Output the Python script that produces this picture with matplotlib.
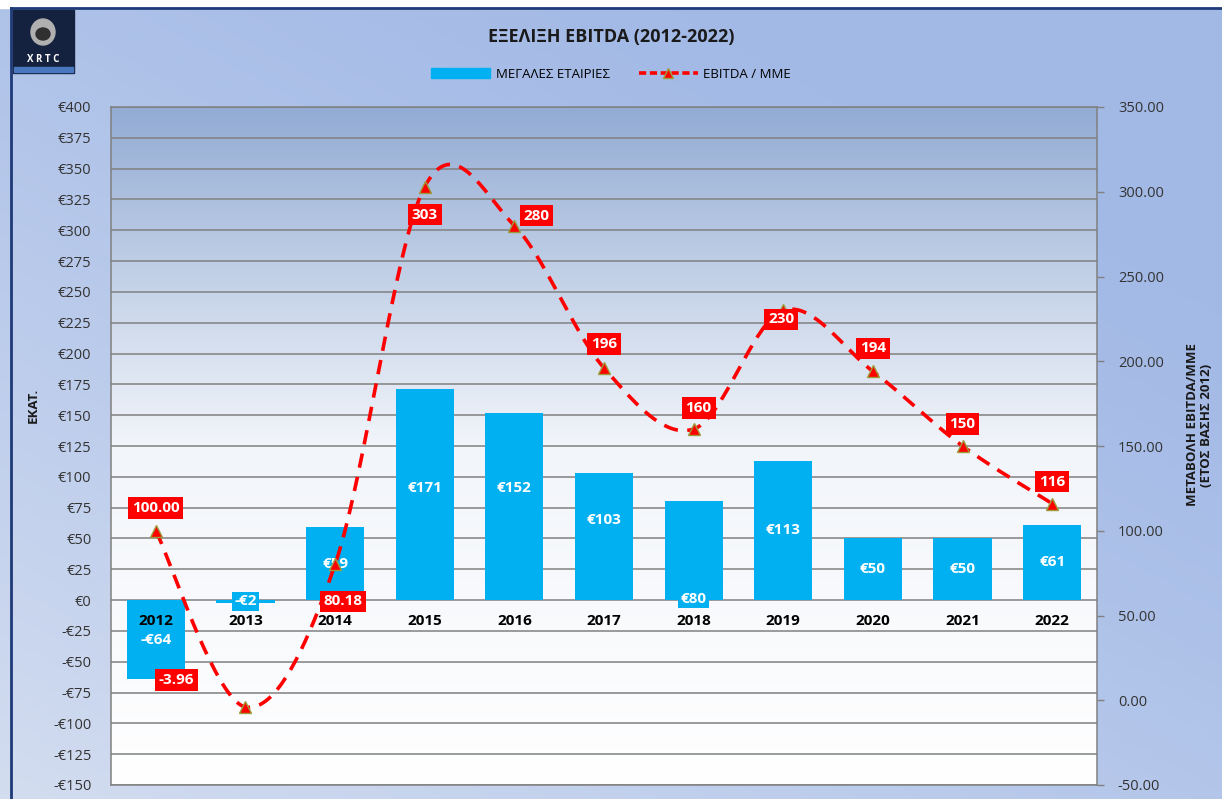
import numpy as np
import matplotlib
matplotlib.use("Agg")
import matplotlib.pyplot as plt
from matplotlib.patches import Rectangle, Ellipse
from matplotlib.lines import Line2D
from matplotlib.colors import LinearSegmentedColormap

plt.rcParams['font.family'] = ['Open Sans', 'DejaVu Sans']

years = ['2012', '2013', '2014', '2015', '2016', '2017', '2018', '2019', '2020', '2021', '2022']
big_companies = [-64, -2, 59, 171, 152, 103, 80, 113, 50, 50, 61]
ebitda_sme = [100.00, -3.96, 80.18, 303, 280, 196, 160, 230, 194, 150, 116]
line_labels = ['100.00', '-3.96', '80.18', '303', '280', '196', '160', '230', '194', '150', '116']

# where excel put the labels (pixel offsets from the marker / y of bar labels)
line_label_offsets = [(0, 23), (-69, 27), (8, -37), (0, -28), (22, 10), (0, 24),
                      (5, 21), (-2, -9), (0, 23), (0, 22), (0, 22)]
bar_label_y = [-32, -1, 29.5, 91, 91, 65, 1, 56.5, 25, 25, 30.5]

BAR = '#00b0f0'
RED = '#ff0000'
W, H = 1222, 799

fig = plt.figure(figsize=(W / 100, H / 100), dpi=100)

# figure background gradient, light towards the bottom-left corner
bg = fig.add_axes([0, 0, 1, 1], zorder=-10)
yy, xx = np.mgrid[0:1:200j, 0:1:200j]
g = np.clip(0.65 * yy + 0.55 * (1 - xx) - 0.2, 0, 1) ** 1.3
bg_cmap = LinearSegmentedColormap.from_list('bg', ['#a2b9e6', '#d3ddf0'])
bg.imshow(g, cmap=bg_cmap, aspect='auto', extent=[0, 1, 0, 1], origin='upper')
bg.set_xlim(0, 1)
bg.set_ylim(0, 1)
bg.axis('off')
# white strip on top + dark frame
bg.add_patch(Rectangle((0, 1 - 8 / H), 1, 8 / H, color='white', zorder=2))
bg.plot([11 / W, 11 / W], [0, 1 - 8 / H], color='#1f3a78', lw=2, zorder=3)
bg.plot([11 / W, 1], [1 - 8 / H, 1 - 8 / H], color='#1f3a78', lw=2, zorder=3)

# logo
bg.add_patch(Rectangle((13 / W, 1 - 73 / H), 61 / W, 63 / H, color='#14213f', zorder=3))
bg.add_patch(Ellipse((43 / W, 1 - 32 / H), 24 / W, 26 / H, color='#b0b0b0', zorder=4))
bg.add_patch(Ellipse((43 / W, 1 - 34 / H), 14 / W, 12 / H, color='#303030', zorder=5))
bg.text(43 / W, 1 - 59 / H, 'X R T C', color='white', fontsize=7, fontweight='bold',
        ha='center', va='center', zorder=5)
bg.add_patch(Rectangle((14 / W, 1 - 72 / H), 59 / W, 5 / H, color='#4a78c0', zorder=4))

ax = fig.add_axes([111 / W, 14 / H, 986 / W, 678 / H])
ax2 = ax.twinx()

# plot area gradient
plot_cmap = LinearSegmentedColormap.from_list('pa', ['#ffffff', '#f2f5fa', '#93acd4'])
grad = np.linspace(0, 1, 256).reshape(-1, 1)
ax.imshow(grad, cmap=plot_cmap, aspect='auto', extent=[0, 1, 0, 1], origin='lower',
          transform=ax.transAxes, zorder=-5)

x = np.arange(len(years))
ax.bar(x, big_companies, width=0.65, color=BAR, zorder=2)
ax.set_xlim(-0.5, len(years) - 0.5)
ax.set_ylim(-150, 400)
ax.set_yticks(np.arange(-150, 401, 25))
ax.set_yticklabels([f'-€{-v}' if v < 0 else f'€{v}' for v in range(-150, 401, 25)])
ax.yaxis.grid(True, color='#808080', lw=1.1, zorder=1)
ax.set_axisbelow(True)
ax.set_xticks([])
ax.tick_params(axis='y', length=0, labelsize=10.5, colors='#333333', pad=14)
for s in ax.spines.values():
    s.set_color('#808080')
    s.set_linewidth(1.1)

for i, yr in enumerate(years):
    ax.text(i, -17, yr, ha='center', va='center', fontsize=11, fontweight='bold', color='black', zorder=4)

for i, v in enumerate(big_companies):
    txt = f'-€{-v}' if v < 0 else f'€{v}'
    box = None
    if i in (1, 6):
        box = dict(boxstyle='square,pad=0.15', fc=BAR, ec='none')
    ax.text(i, bar_label_y[i], txt, ha='center', va='center', fontsize=11, fontweight='bold',
            color='white', zorder=4, bbox=box)

# smoothed line (excel style bezier through the points)
pts = np.column_stack([x, ebitda_sme]).astype(float)
curve = []
for i in range(len(pts) - 1):
    p0 = pts[max(i - 1, 0)]
    p1 = pts[i]
    p2 = pts[i + 1]
    p3 = pts[min(i + 2, len(pts) - 1)]
    c1 = p1 + (p2 - p0) / 6
    c2 = p2 - (p3 - p1) / 6
    t = np.linspace(0, 1, 40)[:, None]
    seg = (1 - t) ** 3 * p1 + 3 * (1 - t) ** 2 * t * c1 + 3 * (1 - t) * t ** 2 * c2 + t ** 3 * p2
    curve.append(seg if i == 0 else seg[1:])
curve = np.vstack(curve)
ax2.plot(curve[:, 0], curve[:, 1], color=RED, lw=2.6, dashes=(4, 2.6), zorder=3)
ax2.plot(x, ebitda_sme, ls='none', marker='^', ms=8, mfc=RED, mec='#9c9c3c', mew=1, zorder=4)

ax2.set_ylim(-50, 350)
ax2.set_yticks(np.arange(-50, 351, 50))
ax2.set_yticklabels([f'{v:.2f}' for v in range(-50, 351, 50)])
ax2.tick_params(axis='y', length=5, width=1, color='#808080', labelsize=10.5, colors='#333333', pad=10)
for s in ax2.spines.values():
    s.set_visible(False)

for i, v in enumerate(ebitda_sme):
    dx, dy = line_label_offsets[i]
    ax2.annotate(line_labels[i], (x[i], v), xytext=(dx, dy), textcoords='offset pixels',
                 ha='center', va='center', fontsize=11, fontweight='bold', color='white', zorder=6,
                 bbox=dict(boxstyle='square,pad=0.25', fc=RED, ec='none'))

# axis titles
fig.text(33 / W, 1 - 405 / H, 'ΕΚΑΤ.', rotation=90, ha='center', va='center',
         fontsize=9.5, fontweight='bold', color='#1a1a1a')
fig.text(1200 / W, 1 - 425 / H, 'ΜΕΤΑΒΟΛΗ EBITDA/ΜΜΕ\n(ΕΤΟΣ ΒΑΣΗΣ 2012)', rotation=90,
         ha='center', va='center', multialignment='center', fontsize=9.5, fontweight='bold',
         color='#1a1a1a', linespacing=1.1)

fig.text(0.5, 1 - 37 / H, 'ΕΞΕΛΙΞΗ EBITDA (2012-2022)', ha='center', va='center',
         fontsize=13, fontweight='bold', color='#1a1a1a')

handles = [Rectangle((0, 0), 1, 1, color=BAR),
           Line2D([], [], color=RED, lw=2.6, dashes=(2, 1), marker='^', ms=7, mfc=RED, mec='#9c9c3c')]
fig.legend(handles, ['ΜΕΓΑΛΕΣ ΕΤΑΙΡΙΕΣ', 'EBITDA / ΜΜΕ'], loc='center', ncol=2,
           bbox_to_anchor=(0.5, 1 - 74 / H), frameon=False, fontsize=9.5,
           handlelength=4.5, handleheight=0.8, columnspacing=2.2, handletextpad=0.4)

fig.savefig('out.png', dpi=100)
